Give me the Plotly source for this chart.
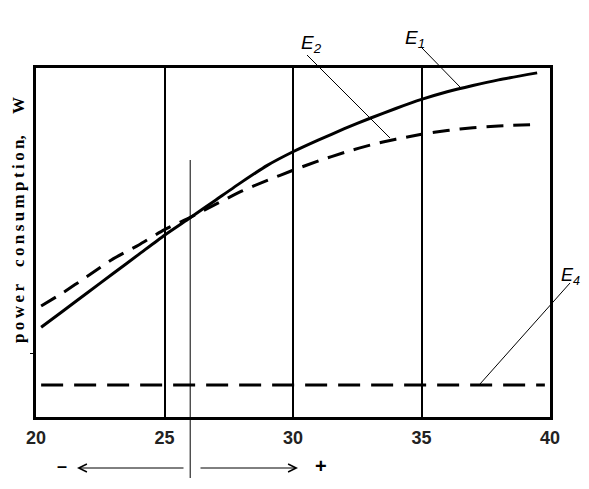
import plotly.graph_objects as go

# ---- data ----
temperature = [20.2, 21, 22, 23, 24, 25, 26, 27, 28, 29, 30, 31, 32, 33, 34, 35, 36, 37, 38, 39.5]
E1 = [25.7, 30.1, 35.6, 41.1, 46.6, 52.1, 57.1, 62.2, 67.3, 72.1, 76.0, 79.4, 82.6, 85.6, 88.4, 91.0, 93.2, 95.0, 96.6, 98.6]
E2 = [31.8, 35.4, 40.3, 45.3, 49.3, 53.7, 57.2, 61.0, 64.7, 67.8, 70.7, 73.4, 75.8, 77.9, 79.6, 81.0, 82.1, 82.9, 83.4, 83.8]
E4_x = [20.2, 39.8]
E4 = [9.2, 9.2]
x_ticks = [20, 25, 30, 35, 40]
marker_x = 26  # thin vertical reference line

# page is shown with an 8px body margin
OFF = 8
W, H = 589 - 2 * OFF, 489 - 2 * OFF
ML, MT = 36 - OFF, 68 - OFF
PW, PH = 514, 349
MR, MB = W - ML - PW, H - MT - PH


def px(xp):  # page pixel -> paper x
    return (xp - OFF - ML) / PW


def py(yp):  # page pixel -> paper y
    return (OFF + MT + PH - yp) / PH


fig = go.Figure()
fig.add_trace(go.Scatter(x=temperature, y=E1, mode="lines", line_shape="spline",
                         line=dict(color="black", width=3, smoothing=0.6), showlegend=False))
fig.add_trace(go.Scatter(x=temperature, y=E2, mode="lines", line_shape="spline",
                         line=dict(color="black", width=3, dash="17px,10px", smoothing=0.6),
                         showlegend=False))
fig.add_trace(go.Scatter(x=E4_x, y=E4, mode="lines",
                         line=dict(color="black", width=3, dash="22px,11px"), showlegend=False))

shapes = []
# thin vertical line at 26, extending below the axis
shapes.append(dict(type="line", xref="x", yref="paper", x0=marker_x, x1=marker_x,
                   y0=py(160), y1=py(478), line=dict(color="black", width=1)))
# leader lines
for (x0, y0, x1, y1) in [(307, 55, 390, 138), (422, 48, 460, 87), (570, 283, 480, 384)]:
    shapes.append(dict(type="line", xref="paper", yref="paper",
                       x0=px(x0), y0=py(y0), x1=px(x1), y1=py(y1),
                       line=dict(color="black", width=1)))

annotations = []
lab_font = dict(family="Arial", size=19, color="black")
for txt, xp, yp, fs in [("<i>E<sub>2</sub></i>", 311, 44, 19), ("<i>E<sub>1</sub></i>", 415, 39, 19),
                        ("<i>E<sub>4</sub></i>", 570, 276, 18)]:
    annotations.append(dict(text=txt, xref="paper", yref="paper", x=px(xp), y=py(yp),
                            showarrow=False, font=dict(family="Arial", size=fs, color="black"),
                            xanchor="center", yanchor="middle"))

# arrows below axis
annotations.append(dict(text="", xref="paper", yref="paper", x=px(77), y=py(468),
                        ax=108, ay=0, axref="pixel", ayref="pixel",
                        showarrow=True, arrowhead=5, arrowsize=1.6, arrowwidth=1, arrowcolor="black"))
annotations.append(dict(text="", xref="paper", yref="paper", x=px(298), y=py(468),
                        ax=-99, ay=0, axref="pixel", ayref="pixel",
                        showarrow=True, arrowhead=5, arrowsize=1.6, arrowwidth=1, arrowcolor="black"))
annotations.append(dict(text="<b>\u2013</b>", xref="paper", yref="paper", x=px(62), y=py(466),
                        xanchor="center", yanchor="middle",
                        showarrow=False, font=dict(family="Arial", size=18, color="black")))
annotations.append(dict(text="<b>+</b>", xref="paper", yref="paper", x=px(321), y=py(466),
                        xanchor="center", yanchor="middle",
                        showarrow=False, font=dict(family="Arial", size=20, color="black")))


# y-axis title (spaced out, bold serif)
def spaced(word):
    return "\u2009".join(word)


title = spaced("power") + "\u00a0\u00a0\u00a0\u00a0" + spaced("consumption") + ",\u00a0\u00a0\u00a0\u00a0\u00a0W"
annotations.append(dict(text="<b>" + title + "</b>", xref="paper", yref="paper",
                        x=px(18), y=py(220), textangle=-90, showarrow=False,
                        xanchor="center", yanchor="middle",
                        font=dict(family="Liberation Serif", size=17, color="black")))

fig.update_layout(
    width=W, height=H,
    margin=dict(l=ML, r=MR, t=MT, b=MB),
    paper_bgcolor="white", plot_bgcolor="white",
    shapes=shapes, annotations=annotations,
    xaxis=dict(range=[20, 40], tickvals=x_ticks, ticktext=["<b>%d</b>" % v for v in x_ticks],
               showgrid=True, gridcolor="black", gridwidth=2, zeroline=False,
               showline=True, linecolor="black", linewidth=2.5, mirror=True,
               ticks="", tickfont=dict(family="Arial", size=18, color="#222"),
               ticklabelstandoff=3),
    yaxis=dict(range=[0, 100], showticklabels=False, showgrid=False, zeroline=False,
               showline=True, linecolor="black", linewidth=2.5, mirror=True,
               tickvals=[18.3], ticks="outside", ticklen=3, tickcolor="black"),
)
fig.write_html("out.html")
